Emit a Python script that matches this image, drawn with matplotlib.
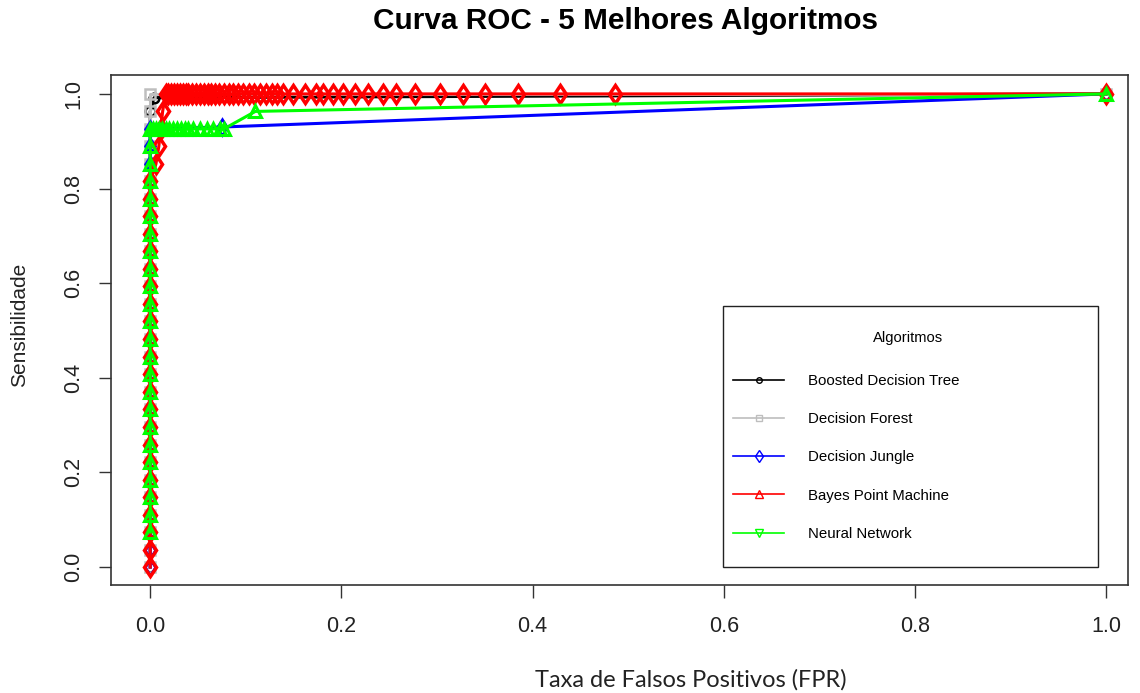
import matplotlib
matplotlib.use("Agg")
import matplotlib.pyplot as plt
from matplotlib.lines import Line2D
from matplotlib.patches import Rectangle

# ─── DATA ────────────────────────────────────────────────────────────────────

bdt_fpr = [0.0] * 27 + [0.004, 1.0]
bdt_tpr = [0.000, 0.037, 0.074, 0.111, 0.148, 0.185, 0.222, 0.259, 0.296,
           0.333, 0.370, 0.407, 0.444, 0.481, 0.519, 0.556, 0.593, 0.630,
           0.667, 0.704, 0.741, 0.778, 0.815, 0.852, 0.889, 0.926, 0.963,
           0.992, 1.000]

forest_fpr = [0.0] * 28 + [1.0]
forest_tpr = [0.000, 0.037, 0.074, 0.111, 0.148, 0.185, 0.222, 0.259, 0.296,
              0.333, 0.370, 0.407, 0.444, 0.481, 0.519, 0.556, 0.593, 0.630,
              0.667, 0.704, 0.741, 0.778, 0.815, 0.852, 0.889, 0.926, 0.963,
              1.000, 1.000]

jungle_fpr = [0.0] * 26 + [0.075, 1.0]
jungle_tpr = [0.000, 0.037, 0.074, 0.111, 0.148, 0.185, 0.222, 0.259, 0.296,
              0.333, 0.370, 0.407, 0.444, 0.481, 0.519, 0.556, 0.593, 0.630,
              0.667, 0.704, 0.741, 0.778, 0.815, 0.852, 0.889, 0.926,
              0.930, 1.000]

bayes_fpr = ([0.0] * 23 + [0.006, 0.009, 0.011, 0.013] +
             [0.016, 0.019, 0.022, 0.025, 0.028, 0.031, 0.034, 0.037, 0.040,
              0.044, 0.048, 0.052, 0.056, 0.060, 0.064, 0.068, 0.072, 0.077,
              0.082, 0.087, 0.092, 0.097, 0.103, 0.109, 0.115, 0.121, 0.127,
              0.133, 0.139, 0.149, 0.162, 0.173, 0.181, 0.191, 0.202, 0.214,
              0.228, 0.244, 0.257, 0.277, 0.303, 0.327, 0.350, 0.385, 0.429,
              0.486, 1.000])
bayes_tpr = ([0.000, 0.037, 0.074, 0.111, 0.148, 0.185, 0.222, 0.259, 0.296,
              0.333, 0.370, 0.407, 0.444, 0.481, 0.519, 0.556, 0.593, 0.630,
              0.667, 0.704, 0.741, 0.778, 0.815, 0.852, 0.889, 0.926, 0.963] +
             [1.0] * 47)

nn_fpr = ([0.0] * 24 +
          [0.003, 0.006, 0.009, 0.012, 0.016, 0.020, 0.024, 0.028, 0.032,
           0.036, 0.040, 0.045, 0.052, 0.059, 0.066, 0.073, 0.077,
           0.110, 1.000])
nn_tpr = ([0.074, 0.111, 0.148, 0.185, 0.222, 0.259, 0.296, 0.333, 0.370,
           0.407, 0.444, 0.481, 0.519, 0.556, 0.593, 0.630, 0.667, 0.704,
           0.741, 0.778, 0.815, 0.852, 0.889, 0.926] +
          [0.926] * 17 + [0.963, 1.000])

labels = ["Boosted Decision Tree", "Decision Forest", "Decision Jungle",
          "Bayes Point Machine", "Neural Network"]
colors = ["black", "#BEBEBE", "#0000FF", "#FF0000", "#00FF00"]
ticks = [0.0, 0.2, 0.4, 0.6, 0.8, 1.0]
tick_labels = ["0.0", "0.2", "0.4", "0.6", "0.8", "1.0"]

# ─── PLOT ────────────────────────────────────────────────────────────────────

fig = plt.figure(figsize=(11.4, 6.93), dpi=100)
ax = fig.add_axes([0.0974, 0.1558, 0.8921, 0.736])

ax.plot(bdt_fpr, bdt_tpr, color=colors[0], lw=2.2, marker="o", ms=7,
        mfc="none", mew=1.8)
ax.plot(forest_fpr, forest_tpr, color=colors[1], lw=2.2, marker="s", ms=7,
        mfc="none", mew=1.8)
ax.plot(jungle_fpr, jungle_tpr, color=colors[2], lw=2.2, marker="d", ms=8,
        mfc="none", mew=1.8)
ax.plot(bayes_fpr, bayes_tpr, color=colors[3], lw=2.2, marker="d", ms=9.5,
        mfc="none", mew=2.5)
ax.plot(nn_fpr, nn_tpr, color=colors[4], lw=2.2, marker="^", ms=9,
        mfc="none", mew=2.2)

ax.set_xlim(-0.041, 1.023)
ax.set_ylim(-0.038, 1.040)
ax.set_xticks(ticks)
ax.set_yticks(ticks)
ax.set_xticklabels(tick_labels, family="Liberation Sans", fontsize=15.5,
                   color="#222222")
ax.set_yticklabels(tick_labels, family="Liberation Sans", fontsize=15.5,
                   rotation=90, va="center", color="#222222")
ax.tick_params(axis="x", direction="out", length=9, width=1, pad=13,
               color="#333333")
ax.tick_params(axis="y", direction="out", length=9, width=1, pad=10.5,
               color="#333333")
for sp in ax.spines.values():
    sp.set_color("#333333")
    sp.set_linewidth(1.2)

ax.set_xlabel("Taxa de Falsos Positivos (FPR)", family="Lato", fontsize=17,
              color="#222222", va="center")
ax.xaxis.set_label_coords(0.570, -0.186)
ax.set_ylabel("Sensibilidade", family="Liberation Sans", fontsize=15,
              color="#222222", va="center")
ax.yaxis.set_label_coords(-0.0895, 0.51)
fig.suptitle("Curva ROC - 5 Melhores Algoritmos", family="Liberation Sans",
             fontweight="heavy", fontsize=21.4, x=0.549, y=0.99, va="top")

# legend frame as in the reference, entries placed inside it
ax.add_patch(Rectangle((0.602, 0.0353), 0.3685, 0.512, transform=ax.transAxes,
                       facecolor="white", edgecolor="#222222", lw=1.0,
                       zorder=4))
handles = [
    Line2D([], [], color=colors[0], lw=1.2, marker="o", ms=4, mfc="none"),
    Line2D([], [], color=colors[1], lw=1.2, marker="s", ms=5, mfc="none"),
    Line2D([], [], color=colors[2], lw=1.2, marker="d", ms=6, mfc="none"),
    Line2D([], [], color=colors[3], lw=1.2, marker="^", ms=6, mfc="none"),
    Line2D([], [], color=colors[4], lw=1.2, marker="v", ms=6, mfc="none"),
]
leg = ax.legend(handles, labels, title="Algoritmos", loc="upper left",
                bbox_to_anchor=(0.6116, 0.398, 0.344, 0.1), mode="expand",
                labelspacing=1.61, handlelength=3.4, handletextpad=1.6,
                borderpad=0, borderaxespad=0, frameon=False,
                prop={"family": "Liberation Sans", "size": 10.8},
                title_fontproperties={"family": "Liberation Sans",
                                      "size": 10.6})
leg.set_zorder(5)
leg._legend_box.sep = 21

fig.savefig("out.png", dpi=100)
